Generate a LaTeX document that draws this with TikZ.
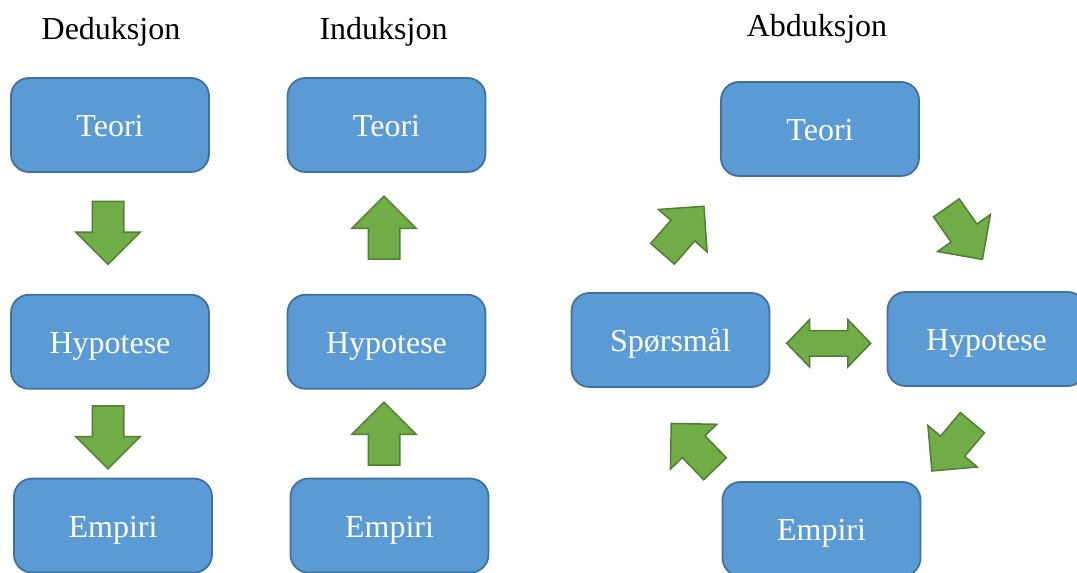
\documentclass[tikz,border=0pt]{standalone}
\usepackage{fontspec}
\setmainfont{Liberation Serif}
\usepackage{tikz}
\usetikzlibrary{shapes.arrows, positioning}
\definecolor{BoxFill}{HTML}{5B9BD5}
\definecolor{BoxLine}{HTML}{41719C}
\definecolor{ArrowFill}{HTML}{70AD47}
\definecolor{ArrowLine}{HTML}{507E32}

\begin{document}
\begin{tikzpicture}[
    x=1pt, y=1pt,
    box/.style={
      rectangle, rounded corners=18pt,
      minimum width=198pt, minimum height=94pt,
      fill=BoxFill, draw=BoxLine, line width=1.8pt,
      align=center, text=white,
      font=\fontsize{32}{38}\selectfont,
      text height=24pt, text depth=0pt
    },
    title/.style={
      anchor=base, text=black,
      font=\fontsize{32}{38}\selectfont
    },
    bigarrow/.style={
      single arrow, fill=ArrowFill, draw=ArrowLine, line width=1.5pt,
      inner sep=0pt, inner ysep=15pt,
      single arrow head extend=16.5pt, single arrow tip angle=90,
      minimum height=63pt
    },
    twoarrow/.style={
      double arrow, fill=ArrowFill, draw=ArrowLine, line width=1.5pt,
      inner sep=0pt, inner ysep=12pt,
      double arrow head extend=11pt, double arrow tip angle=92,
      minimum height=84pt
    }
  ]
    \useasboundingbox (0,0) rectangle (1077,573);

    %% Titles
    \node[title] (dedtitle) at (111,533) {Deduksjon};
    \node[title] (indtitle) at (383.5,533) {Induksjon};
    \node[title] (abdtitle) at (817,536.5) {Abduksjon};

    %% Deduksjon
    \node[box] (dteori) at (110,448) {Teori};
    \node[box, below=121pt of dteori] (dhyp) {Hypotese};
    \node[box, below=88pt of dhyp, xshift=3pt] (dempiri) {Empiri};
    \node[bigarrow, rotate=-90] (darrow1) at (108,348) {};
    \node[bigarrow, rotate=-90] (darrow2) at (108,143.5) {};

    %% Induksjon
    \node[box] (iteori) at (386.5,448) {Teori};
    \node[box, below=121pt of iteori] (ihyp) {Hypotese};
    \node[box, below=88pt of ihyp, xshift=3pt] (iempiri) {Empiri};
    \node[bigarrow, rotate=90] (iarrow1) at (384,337.5) {};
    \node[bigarrow, rotate=90] (iarrow2) at (384,131.5) {};

    %% Abduksjon
    \node[box] (ateori) at (820,444) {Teori};
    \node[box] (asporsmal) at (670.5,233) {Spørsmål};
    \node[box] (ahyp) at (986.5,234) {Hypotese};
    \node[box] (aempiri) at (821.5,44) {Empiri};
    \node[bigarrow, rotate=49] (aarrow1) at (678.1,337) {};
    \node[bigarrow, rotate=-55] (aarrow2) at (959.9,345.8) {};
    \node[bigarrow, rotate=-130] (aarrow3) at (957.2,132.2) {};
    \node[bigarrow, rotate=134] (aarrow4) at (698.6,121.2) {};
    \node[twoarrow] (adouble) at (828.7,229.7) {};
\end{tikzpicture}
\end{document}
